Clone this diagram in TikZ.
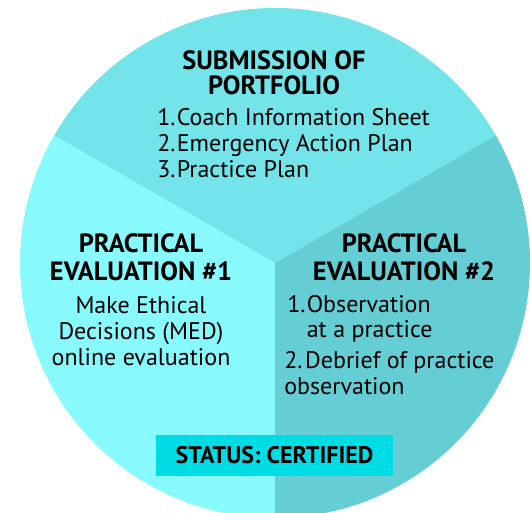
\documentclass[tikz,border=0pt]{standalone}
\usepackage{fontspec}
\setmainfont{PT Sans}
\usepackage{tikz}
\usetikzlibrary{positioning}

\begin{document}
\begin{tikzpicture}[x=0.75pt,y=0.75pt,yscale=-1,xscale=1,
  head/.style={font=\fontsize{19.8}{21}\selectfont\bfseries, align=center, inner sep=0pt, anchor=base},
  body/.style={font=\fontsize{18}{19.2}\selectfont, inner sep=0pt, anchor=base}]
%set diagram size: 530 x 512
\clip (0,0) rectangle (530,512);

%Shape: Circle centre
\coordinate (ctr) at (275,263);
%Shape: Sector top [id:portfolio]
\fill [color={rgb, 255:red, 114; green, 228; blue, 234 }] (ctr) -- (54.2,135.5) arc (210:330:255) -- cycle;
%Shape: Sector left [id:eval1]
\fill [color={rgb, 255:red, 136; green, 249; blue, 252 }] (ctr) -- (275,518) arc (90:210:255) -- cycle;
%Shape: Sector right [id:eval2]
\fill [color={rgb, 255:red, 100; green, 206; blue, 212 }] (ctr) -- (495.8,135.5) arc (-30:90:255) -- cycle;

% Text Node
\node [head, font=\fontsize{19.8}{18.75}\selectfont\bfseries] (portT) at (274,94) {SUBMISSION OF\\PORTFOLIO};
% Text Node
\node [body, align=left, anchor=base west] (portL) at (157,177) {1.\kern1ptCoach Information Sheet\\2.\kern1ptEmergency Action Plan\\3.\kern1ptPractice Plan};

% Text Node
\node [head] (evaOneT) at (141,280) {PRACTICAL\\EVALUATION \#1};
% Text Node
\node [body, align=center, font=\fontsize{18}{19.5}\selectfont] (evaOneL) at (141,365) {Make Ethical\\Decisions (MED)\\online evaluation};

% Text Node
\node [head] (evaTwoT) at (404,280) {PRACTICAL\\EVALUATION \#2};
% Text Node
\node [body, align=left, anchor=base west, font=\fontsize{18}{18.75}\selectfont] (evaTwoA) at (287,337) {1.\kern1ptObservation\\\phantom{1.\kern1pt}at a practice};
% Text Node
\node [body, align=left, anchor=base west, font=\fontsize{18}{19.5}\selectfont] (evaTwoB) at (284,394) {2.\kern2ptDebrief of practice\\observation};

%Shape: Rectangle [id:status]
\node [fill={rgb, 255:red, 0; green, 220; blue, 228 }, minimum width=177.75pt, minimum height=30.75pt, inner sep=0pt,
  font=\fontsize{18}{20}\selectfont\bfseries] (status) at (274.5,455.5) {STATUS: CERTIFIED};

\end{tikzpicture}
\end{document}
